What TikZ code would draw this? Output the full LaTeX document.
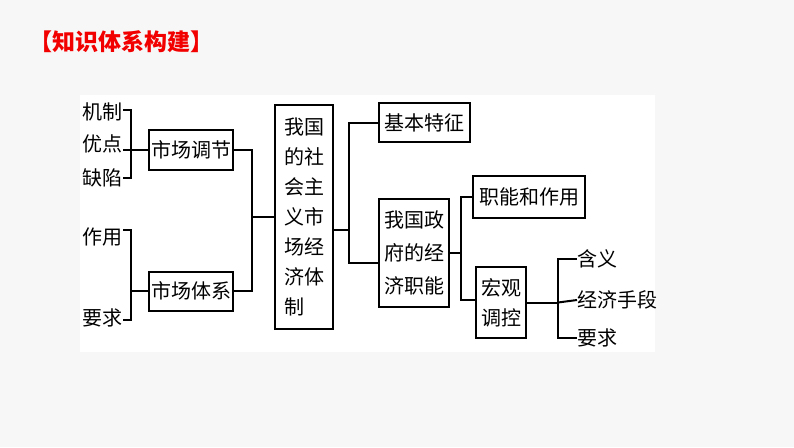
\documentclass[tikz,border=0pt]{standalone}
\usepackage{fontspec}
\setmainfont{Noto Sans CJK SC}
\begin{document}
\begin{tikzpicture}[x=1pt,y=-1pt,
  every node/.style={font=\fontsize{20}{30}\selectfont},
  bx/.style={draw=black,line width=2pt,inner sep=0pt,align=center},
  lb/.style={inner sep=1pt,anchor=west},
  ln/.style={line width=2pt,draw=black}]
\fill[gray!6] (0,0) rectangle (794,447);
\fill[white] (80,95) rectangle (655,352);
\useasboundingbox (0,0) rectangle (794,447);
% title
\node[anchor=west,inner sep=0pt,text=red!95!black,font=\fontsize{23}{26}\selectfont\bfseries] (title) at (29,42) {【知识体系构建】};
% left labels
\node[lb] (jz) at (81,112) {机制};
\node[lb] (yd) at (81,144) {优点};
\node[lb] (qx) at (81,178) {缺陷};
\node[lb] (zy) at (81,237) {作用};
\node[lb] (yq) at (81,318) {要求};
% boxes
\node[bx,minimum width=84pt,minimum height=40pt] (tj) at (191,150) {市场调节};
\node[bx,minimum width=84pt,minimum height=39pt] (tx) at (191,291) {市场体系};
\node[bx,minimum width=58pt,minimum height=224pt,text width=40pt,align=left] (big) at (304,217) {我国\\的社\\会主\\义市\\场经\\济体\\制};
\node[bx,minimum width=91pt,minimum height=39pt] (jb) at (424.5,122.5) {基本特征};
\node[bx,minimum width=70pt,minimum height=108pt,font=\fontsize{20}{33}\selectfont] (zf) at (414,253) {我国政\\府的经\\济职能};
\node[bx,minimum width=112pt,minimum height=42pt] (zn) at (529,197) {职能和作用};
\node[bx,minimum width=50pt,minimum height=71pt] (hg) at (501,302.5) {宏观\\调控};
% right labels
\node[lb,inner sep=0pt] (hy) at (577,259) {含义};
\node[lb,inner sep=0pt] (sd) at (577,300) {经济手段};
\node[lb,inner sep=0pt] (yq2) at (577,338) {要求};
% junction coordinates
\coordinate (b1) at (131,150);
\coordinate (b2) at (131,291);
\coordinate (j1) at (252,217);
\coordinate (j2) at (349,230);
\coordinate (j3) at (461,253);
\coordinate (j4) at (558,302.5);
% connectors
\draw[ln] ([yshift=2pt]jz.east) -| (b1) |- (qx.east);
\draw[ln] ([yshift=-6pt]yd.east) -- (tj.west);
\draw[ln] ([yshift=7pt]zy.east) -| (b2) |- ([yshift=-2pt]yq.east);
\draw[ln] (b2) -- (tx.west);
\draw[ln] (tj.east) -| (j1) |- (tx.east);
\draw[ln] (j1) -- (big.west);
\draw[ln] (big.east |- j2) -- (j2);
\draw[ln] (jb.west) -| (j2) |- ([yshift=-10pt]zf.west);
\draw[ln] (zf.east) -- (j3);
\draw[ln] (zn.west) -| (j3) |- ([yshift=2.5pt]hg.west);
\draw[ln] (hg.east) -- (j4);
\draw[ln] (hy.west) -| (j4) |- (yq2.west);
\draw[ln] (j4) -- (sd.west);
\end{tikzpicture}
\end{document}
